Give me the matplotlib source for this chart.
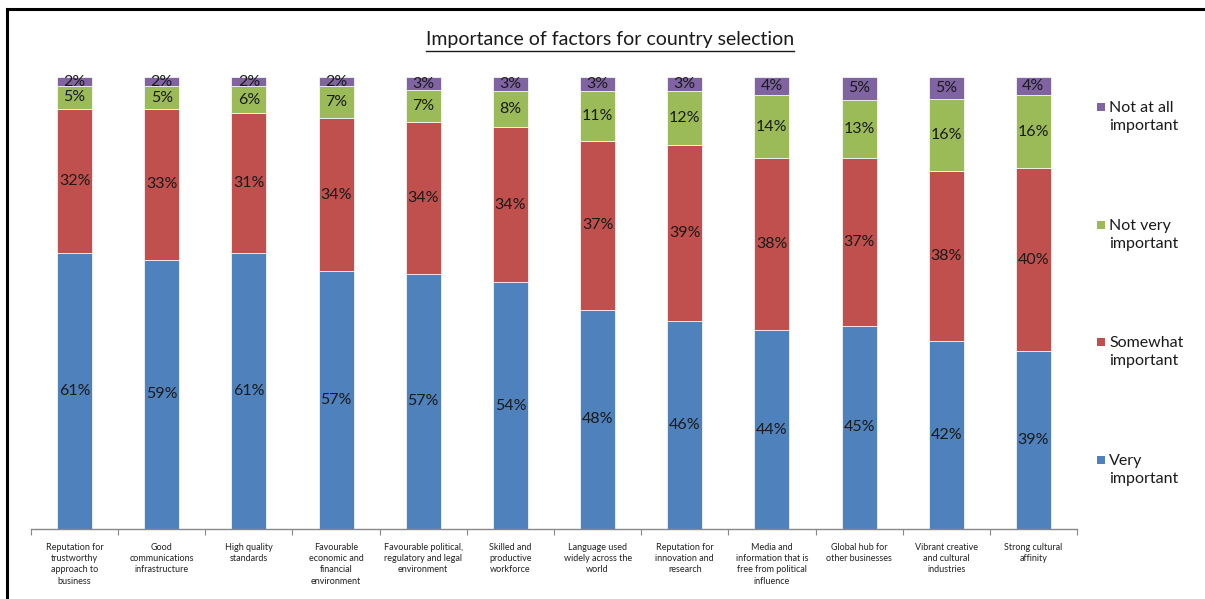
import matplotlib
matplotlib.use("Agg")
import matplotlib.pyplot as plt
from matplotlib.patches import Rectangle
from matplotlib.lines import Line2D
import numpy as np

plt.rcParams['font.family'] = ['Lato', 'DejaVu Sans']

categories = [
    "Reputation for\ntrustworthy\napproach to\nbusiness",
    "Good\ncommunications\ninfrastructure",
    "High quality\nstandards",
    "Favourable\neconomic and\nfinancial\nenvironment",
    "Favourable political,\nregulatory and legal\nenvironment",
    "Skilled and\nproductive\nworkforce",
    "Language used\nwidely across the\nworld",
    "Reputation for\ninnovation and\nresearch",
    "Media and\ninformation that is\nfree from political\ninfluence",
    "Global hub for\nother businesses",
    "Vibrant creative\nand cultural\nindustries",
    "Strong cultural\naffinity",
]
very_important = [61, 59, 61, 57, 57, 54, 48, 46, 44, 45, 42, 39]
somewhat_important = [32, 33, 31, 34, 34, 34, 37, 39, 38, 37, 38, 40]
not_very_important = [5, 5, 6, 7, 7, 8, 11, 12, 14, 13, 16, 16]
not_at_all_important = [2, 2, 2, 2, 3, 3, 3, 3, 4, 5, 5, 4]

series_names = ["Very\nimportant", "Somewhat\nimportant", "Not very\nimportant", "Not at all\nimportant"]
series = [very_important, somewhat_important, not_very_important, not_at_all_important]
colors = ["#4F81BD", "#C0504D", "#9BBB59", "#8064A2"]

W, H = 1205, 599
fig = plt.figure(figsize=(W / 100, H / 100), dpi=100)

ax_left, ax_right, ax_bottom, ax_top = 31, 1077, 529, 77
ax = fig.add_axes([ax_left / W, 1 - ax_bottom / H, (ax_right - ax_left) / W, (ax_bottom - ax_top) / H])

data = np.array(series, dtype=float)
totals = data.sum(axis=0)
frac = data / totals
x = np.arange(len(categories))
bottom = np.zeros(len(categories))
for vals, fr, col in zip(series, frac, colors):
    ax.bar(x, fr, width=0.4, bottom=bottom, color=col, edgecolor='white', linewidth=0.5)
    for xi, v, f, b in zip(x, vals, fr, bottom):
        ax.text(xi, b + f / 2, f"{v}%", ha='center', va='center', fontsize=11.5, color='#1a1a1a')
    bottom = bottom + fr

ax.set_xlim(-0.5, len(categories) - 0.5)
ax.set_ylim(0, 1)
for s in ['top', 'right', 'left']:
    ax.spines[s].set_visible(False)
ax.spines['bottom'].set_color('#888888')
ax.spines['bottom'].set_linewidth(1)
ax.set_yticks([])
ax.set_xticks(np.arange(-0.5, len(categories), 1.0))
ax.set_xticklabels([])
ax.tick_params(axis='x', direction='out', length=4, color='#888888')
for xi, lab in zip(x, categories):
    ax.text(xi, -0.03, lab, ha='center', va='top', fontsize=6.5, color='#222222',
            linespacing=1.35, transform=ax.get_xaxis_transform())

# Title
title = fig.text(610 / W, 1 - 40 / H, "Importance of factors for country selection",
                 ha='center', va='center', fontsize=14, color='#1a1a1a')
fig.canvas.draw()
bb = title.get_window_extent(renderer=fig.canvas.get_renderer())
fig.add_artist(Line2D([bb.x0 / W, bb.x1 / W], [(H - 51) / H, (H - 51) / H],
                      transform=fig.transFigure, color='#1a1a1a', linewidth=1))

# Legend (manual)
leg_centers = [470, 352, 235, 117]
for name, col, yc in zip(series_names, colors, leg_centers):
    fig.add_artist(Rectangle((1097 / W, 1 - (yc - 10 + 4) / H), 8 / W, 8 / H,
                             transform=fig.transFigure, facecolor=col, edgecolor='none'))
    fig.text(1109 / W, 1 - yc / H, name, ha='left', va='center', fontsize=11.5,
             color='#1a1a1a', linespacing=1.45)

# Frame lines
fig.add_artist(Line2D([7 / W, 7 / W], [0, 1 - 9 / H], transform=fig.transFigure, color='black', linewidth=2.2))
fig.add_artist(Line2D([7 / W, 1], [1 - 9 / H, 1 - 9 / H], transform=fig.transFigure, color='black', linewidth=2.2))

fig.savefig("out.png", dpi=100, facecolor='white')
